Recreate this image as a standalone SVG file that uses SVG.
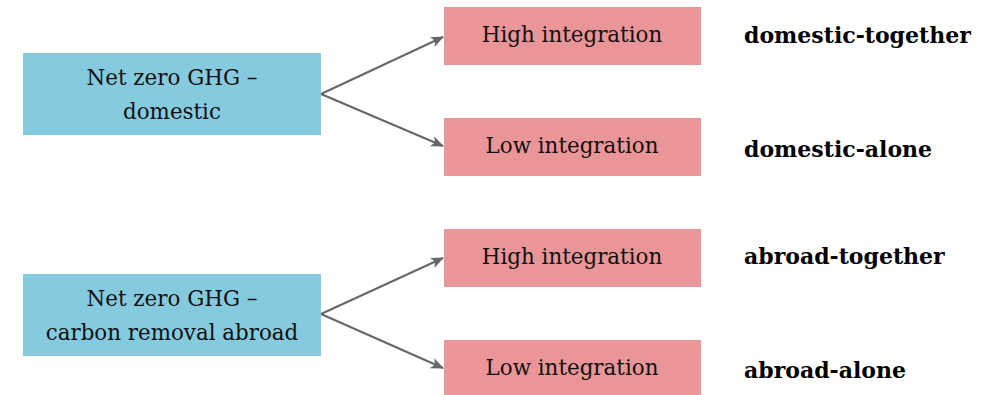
<svg xmlns="http://www.w3.org/2000/svg" width="992" height="395" viewBox="0 0 992 395">
<defs>
<style>
.src{fill:#86CADF}
.dst{fill:#EA9597}
.t{font-family:"DejaVu Serif","Liberation Serif",serif;font-size:21.4px;fill:#111;text-anchor:middle}
.lbl{font-family:"DejaVu Serif","Liberation Serif",serif;font-size:22px;font-weight:bold;fill:#000}
.c{stroke:#666;stroke-width:2;fill:none}
</style>
<marker id="ah" viewBox="0 0 12 12" refX="11" refY="6" markerWidth="13" markerHeight="13" markerUnits="userSpaceOnUse" orient="auto">
<path d="M0,1 L12,6 L0,11 L3,6 Z" fill="#666"/>
</marker>
</defs>
<rect width="992" height="395" fill="#fff"/>
<g id="connectors">
<path class="c" d="M321,94 L443,37" marker-end="url(#ah)"/>
<path class="c" d="M321,94 L443,146" marker-end="url(#ah)"/>
<path class="c" d="M321,314 L443,258" marker-end="url(#ah)"/>
<path class="c" d="M321,314 L443,368" marker-end="url(#ah)"/>
</g>
<g id="domestic"><rect class="src" x="23" y="53" width="298" height="82"/><text class="t" x="172" y="85">Net zero GHG –</text><text class="t" x="172" y="119">domestic</text></g>
<g id="abroad"><rect class="src" x="23" y="274" width="298" height="82"/><text class="t" x="172" y="306">Net zero GHG –</text><text class="t" x="172" y="340">carbon removal abroad</text></g>
<g id="high1"><rect class="dst" x="444" y="7" width="257" height="58"/><text class="t" x="572" y="42">High integration</text></g>
<g id="low1"><rect class="dst" x="444" y="118" width="257" height="58"/><text class="t" x="572" y="153">Low integration</text></g>
<g id="high2"><rect class="dst" x="444" y="229" width="257" height="58"/><text class="t" x="572" y="264">High integration</text></g>
<g id="low2"><rect class="dst" x="444" y="340" width="257" height="58"/><text class="t" x="572" y="375">Low integration</text></g>
<g id="labels">
<text class="lbl" x="744" y="43">domestic-together</text>
<text class="lbl" x="744" y="157">domestic-alone</text>
<text class="lbl" x="744" y="264">abroad-together</text>
<text class="lbl" x="744" y="378">abroad-alone</text>
</g>
</svg>
